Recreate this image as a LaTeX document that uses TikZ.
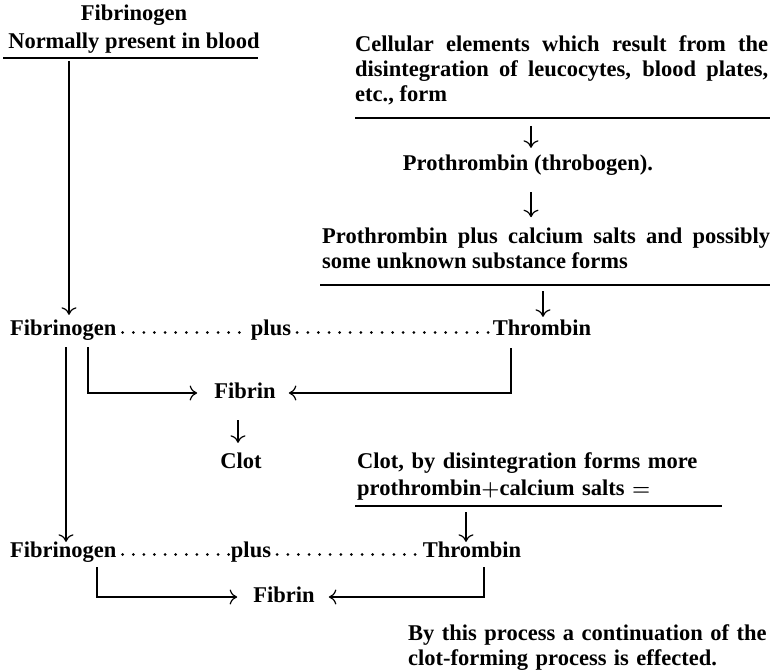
\documentclass[tikz,border=0pt]{standalone}
\usepackage{amsmath}
\usepackage{fontspec}
\setmainfont{Liberation Serif}
\usepackage{tikz}
\usetikzlibrary{calc, positioning, arrows.meta}

\newcommand{\bigtxt}{\fontsize{22.5}{25}\selectfont\bfseries}

\begin{document}
\begin{tikzpicture}[x=1pt, y=-1pt,
	txt/.style={font=\bigtxt, inner xsep=2pt, inner ysep=0pt, text height=15pt, text depth=5pt},
	blk/.style={font=\bigtxt, inner sep=0pt, align=justify},
	rule/.style={line width=1.3pt},
	arr/.style={line width=1.2pt, -{To[length=7.5pt,width=15pt]}},
	lead/.style={line width=3pt, line cap=round, dash pattern=on 0pt off 10.6pt, shorten <=4pt}]
	\useasboundingbox (0,0) rectangle (775,671);

	% left column, top
	\node (top) [font=\bigtxt, align=center, inner sep=0pt] at (134,29) {Fibrinogen\\[3pt]Normally present in blood};
	\draw [rule] (3,58) -- (258,58);

	% right column, top
	\node (cell) [blk, text width=413pt, anchor=base west] at (355,52) {Cellular elements which result from the\linebreak disintegration of leucocytes, blood plates,\linebreak etc., form};
	\draw [rule] (355,118) -- (770,118);
	\node (proth) [txt] at (528,166) {Prothrombin (throbogen).};
	\node (pcs) [blk, text width=448pt, anchor=base west] at (322,243) {Prothrombin plus calcium salts and possibly\linebreak some unknown substance forms};
	\draw [rule] (320,285) -- (770,285);

	\coordinate (r1) at (531,126);
	\draw [arr, shorten >=8pt] (r1) -- (r1 |- proth.north);
	\draw [arr, shorten <=16pt, shorten >=10pt] ([xshift=3pt]proth.south) -- ([xshift=3pt]proth.south |- pcs.north);

	% first reaction
	\node (fib1) [txt, anchor=west] at (8,330) {Fibrinogen};
	\node (plus1) [txt] at (271,330) {plus};
	\node (thr1) [txt] at (542,330) {Thrombin};
	\draw [lead] ([yshift=2.5pt]fib1.base east) -- ([yshift=2.5pt]plus1.base west);
	\draw [lead] ([yshift=2.5pt]plus1.base east) -- ([yshift=2.5pt]thr1.base west);

	\coordinate (t0) at (69,61);
	\draw [arr, shorten >=5pt] (t0) -- (t0 |- fib1.north);
	\coordinate (r2) at (543,291);
	\draw [arr, shorten >=3pt] (r2) -- (r2 |- thr1.north);

	\node (fbn1) [txt] at (245,393) {Fibrin};
	\draw [arr, shorten <=7pt, shorten >=15pt] ([xshift=80pt]fib1.south west) |- (fbn1.west);
	\draw [arr, shorten <=8pt, shorten >=11pt] ([xshift=-31pt]thr1.south) |- (fbn1.east);

	\node (clot) [txt] at (241,463) {Clot};
	\draw [arr, shorten <=17pt, shorten >=10pt] ([xshift=-7pt]fbn1.south) -- ([xshift=-7pt]fbn1.south |- clot.north);

	\node (cbd) [blk, text width=380pt, align=left, anchor=base west] at (357,468) {Clot, by disintegration forms more\\[2pt]prothrombin{\boldmath$+$}calcium salts {\boldmath$=$}};
	\draw [rule] (355,506) -- (722,506);

	% second reaction
	\node (fib2) [txt, anchor=west] at (8,552) {Fibrinogen};
	\node (plus2) [txt] at (251,552) {plus};
	\node (thr2) [txt] at (472,552) {Thrombin};
	\draw [lead] ([yshift=2.5pt]fib2.base east) -- ([yshift=2.5pt]plus2.base west);
	\draw [lead] ([yshift=2.5pt]plus2.base east) -- ([yshift=2.5pt]thr2.base west);

	\draw [arr, shorten <=7pt] ([xshift=58pt]fib1.south west) -- ([xshift=58pt]fib1.south west |- fib2.north);
	\coordinate (r3) at (466,512);
	\draw [arr] (r3) -- (r3 |- thr2.north);

	\node (fbn2) [txt] at (284,597) {Fibrin};
	\draw [arr, shorten <=5pt, shorten >=14pt] ([xshift=89pt]fib2.south west) |- (fbn2.west);
	\draw [arr, shorten <=5pt, shorten >=12pt] ([xshift=12pt]thr2.south) |- (fbn2.east);

	\node (fin) [blk, text width=362pt, align=left, anchor=base west] at (408,640) {By this process a continuation of the\\clot-forming process is effected.};
\end{tikzpicture}
\end{document}
